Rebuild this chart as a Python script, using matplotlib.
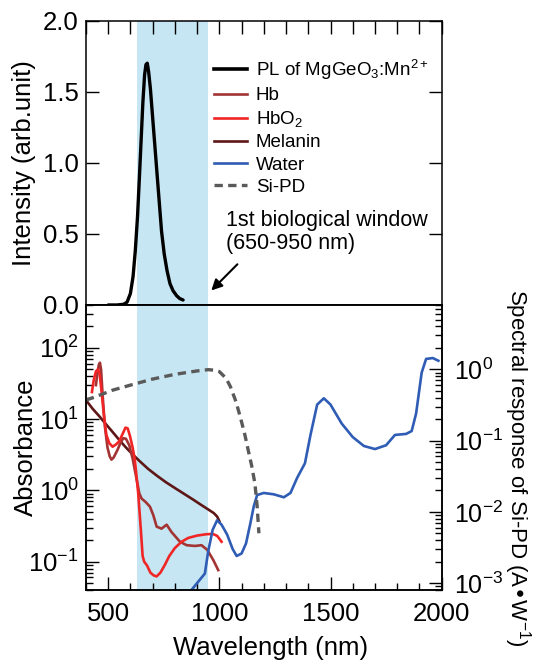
import matplotlib
matplotlib.use("Agg")
import matplotlib.pyplot as plt
from matplotlib.lines import Line2D
from matplotlib.ticker import MultipleLocator, LogLocator, NullFormatter, FormatStrFormatter

plt.rcParams['font.family'] = ['Liberation Sans', 'DejaVu Sans']
plt.rcParams['mathtext.default'] = 'regular'

# PL of MgGeO3:Mn2+ (top panel)
pl_nm = [500, 540, 570, 585, 600, 612, 622, 632, 640, 648, 656, 664, 670, 676, 682, 690, 700, 710,
         720, 730, 740, 752, 765, 778, 792, 808, 822, 837]
pl_int = [0.0, 0.0, 0.005, 0.02, 0.08, 0.2, 0.38, 0.62, 0.88, 1.15, 1.42, 1.62, 1.69, 1.70, 1.64, 1.52,
          1.32, 1.12, 0.92, 0.72, 0.52, 0.36, 0.24, 0.15, 0.1, 0.065, 0.045, 0.035]

# absorbance curves (bottom panel, left axis)
hb_nm = [445, 452, 458, 463, 468, 475, 485, 497, 507, 515, 525, 542, 555, 568, 580, 595, 610, 625,
         640, 650, 670, 688, 703, 718, 740, 763, 785, 823, 853, 890, 920, 946, 973, 995]
hb_abs = [30, 45, 58, 62, 50, 22, 8, 4.0, 3.0, 2.7, 2.9, 3.7, 4.6, 5.4, 5.3, 4.3, 2.8, 1.6,
          0.91, 0.77, 0.68, 0.59, 0.45, 0.31, 0.29, 0.33, 0.26, 0.19, 0.17, 0.166, 0.17, 0.146, 0.105, 0.076]

hbo2_nm = [427, 435, 445, 455, 462, 470, 480, 492, 505, 520, 535, 550, 565, 578, 588, 598, 610, 620,
           635, 646, 655, 662, 675, 690, 705, 718, 735, 755, 775, 800, 830, 860, 900, 940, 970, 990,
           1000, 1010]
hbo2_abs = [24, 35, 47, 50, 42, 25, 12, 6.0, 4.6, 4.1, 4.4, 4.9, 6.2, 7.6, 7.4, 5.8, 4.0, 2.7,
            0.92, 0.31, 0.12, 0.1, 0.088, 0.07, 0.064, 0.062, 0.07, 0.09, 0.12, 0.155, 0.19, 0.215,
            0.232, 0.242, 0.245, 0.23, 0.21, 0.19]

mel_nm = [400, 430, 460, 490, 520, 550, 580, 610, 640, 680, 720, 760, 800, 840, 880, 920, 950, 975,
          990, 1000]
mel_abs = [18.5, 14, 11, 8.5, 6.6, 5.1, 4.0, 3.2, 2.6, 2.0, 1.6, 1.3, 1.08, 0.9, 0.75, 0.62, 0.54,
           0.48, 0.43, 0.37]

water_nm = [875, 900, 935, 950, 970, 990, 1010, 1035, 1060, 1078, 1100, 1120, 1140, 1155, 1170,
            1200, 1245, 1290, 1320, 1350, 1385, 1410, 1440, 1470, 1500, 1550, 1600, 1650, 1700,
            1750, 1790, 1840, 1865, 1885, 1910, 1930, 1960, 1985]
water_abs = [0.04, 0.05, 0.068, 0.14, 0.28, 0.38, 0.33, 0.24, 0.15, 0.12, 0.13, 0.18, 0.35, 0.6, 0.86,
             0.92, 0.88, 0.8, 0.92, 1.5, 2.4, 6.0, 16, 19.6, 16, 8.7, 5.6, 4.2, 3.8, 4.3, 6.0, 6.2,
             6.8, 12, 45, 70, 72, 66]

# Si-PD spectral response (right axis)
sipd_nm = [400, 450, 520, 600, 700, 800, 900, 950, 980, 1000, 1030, 1050, 1075, 1095, 1115, 1130,
           1145, 1160, 1170, 1178]
sipd_resp = [0.37, 0.42, 0.51, 0.6, 0.73, 0.85, 0.95, 0.99, 0.97, 0.93, 0.75, 0.57, 0.35, 0.21, 0.12,
             0.073, 0.045, 0.025, 0.012, 0.005]

window = (630, 950)
shade = '#c5e6f2'
c_hb, c_hbo2, c_mel, c_water, c_sipd = '#a33434', '#f02626', '#5e1717', '#2f5cb4', '#5a5a5a'

fig = plt.figure(figsize=(5.37, 6.62), dpi=100)
ax1 = fig.add_axes([0.160, 0.5393, 0.6625, 0.4297])
ax2 = fig.add_axes([0.160, 0.1088, 0.6625, 0.4305])
ax3 = ax2.twinx()

# top panel
ax1.axvspan(*window, color=shade, lw=0, zorder=0)
ax1.plot(pl_nm, pl_int, color='black', lw=2.4, solid_capstyle='round')
ax1.set_xlim(400, 2000)
ax1.set_ylim(0, 2.0)
ax1.xaxis.set_major_locator(MultipleLocator(100))
ax1.yaxis.set_major_locator(MultipleLocator(0.5))
ax1.yaxis.set_major_formatter(FormatStrFormatter('%.1f'))
ax1.tick_params(axis='x', direction='in', top=True, bottom=False, labelbottom=False,
                length=9.4, width=1.0)
ax1.tick_params(axis='y', direction='in', left=True, right=True, length=9.4, width=1.0,
                labelsize=18.5, pad=5)
ax1.set_ylabel('Intensity (arb.unit)', fontsize=18.5)
ax1.yaxis.set_label_coords(-0.14, 0.5)

ax1.text(1028, 0.515, '1st biological window\n(650-950 nm)', ha='left', va='center',
         fontsize=15.5, linespacing=1.15)
ax1.annotate('', xy=(955, 0.088), xytext=(1090, 0.30),
             arrowprops=dict(arrowstyle='-|>', color='black', lw=1.5, mutation_scale=16))

# bottom panel
ax2.axvspan(*window, color=shade, lw=0, zorder=0)
ax2.plot(mel_nm, mel_abs, color=c_mel, lw=1.9)
ax2.plot(hb_nm, hb_abs, color=c_hb, lw=1.9)
ax2.plot(hbo2_nm, hbo2_abs, color=c_hbo2, lw=1.9)
ax2.plot(water_nm, water_abs, color=c_water, lw=1.9)
ax3.plot(sipd_nm, sipd_resp, color=c_sipd, lw=2.4, dashes=(2.5, 1.6))

ax2.set_xlim(400, 2000)
ax2.set_yscale('log')
ax2.set_ylim(0.04, 400)
ax3.set_yscale('log')
ax3.set_ylim(8e-4, 8)

ax2.xaxis.set_major_locator(MultipleLocator(500))
ax2.xaxis.set_minor_locator(MultipleLocator(100))
ax2.tick_params(axis='x', which='major', direction='in', top=False, length=9.4, width=1.0,
                labelsize=18.5, pad=9)
ax2.tick_params(axis='x', which='minor', direction='in', top=False, length=5, width=1.0)
for ax in (ax2, ax3):
    ax.yaxis.set_major_locator(LogLocator(base=10, numticks=10))
    ax.yaxis.set_minor_locator(LogLocator(base=10, subs=range(2, 10), numticks=10))
    ax.yaxis.set_minor_formatter(NullFormatter())
ax2.tick_params(axis='y', which='major', direction='in', length=9.4, width=1.0, labelsize=18.5, pad=5)
ax2.tick_params(axis='y', which='minor', direction='in', length=5, width=1.0)
ax3.tick_params(axis='y', which='major', direction='in', length=9.4, width=1.0, labelsize=18, pad=9)
ax3.tick_params(axis='y', which='minor', direction='in', length=5, width=1.0)

ax2.set_xlabel('Wavelength (nm)', fontsize=18.5)
ax2.xaxis.set_label_coords(0.52, -0.16)
ax2.set_ylabel('Absorbance', fontsize=18.5)
ax2.yaxis.set_label_coords(-0.135, 0.5)
ax3.set_ylabel('Spectral response of Si-PD (A\u2022W$^{-1}$)', fontsize=16, rotation=270,
               va='bottom')
ax3.yaxis.set_label_coords(1.17, 0.43)

for ax in (ax1, ax2, ax3):
    for sp in ax.spines.values():
        sp.set_linewidth(1.1)

handles = [
    Line2D([], [], color='black', lw=2.6),
    Line2D([], [], color=c_hb, lw=1.9),
    Line2D([], [], color=c_hbo2, lw=1.9),
    Line2D([], [], color=c_mel, lw=1.9),
    Line2D([], [], color=c_water, lw=1.9),
    Line2D([], [], color=c_sipd, lw=2.4, dashes=(2.5, 1.6)),
]
labels = ['PL of MgGeO$_3$:Mn$^{2+}$', 'Hb', 'HbO$_2$', 'Melanin', 'Water', 'Si-PD']
ax1.legend(handles, labels, loc='upper left', bbox_to_anchor=(0.359, 0.869), frameon=False,
           fontsize=13.5, handlelength=1.8, handletextpad=0.45, labelspacing=0.27,
           borderpad=0, borderaxespad=0)

fig.savefig('out.png', dpi=100)
